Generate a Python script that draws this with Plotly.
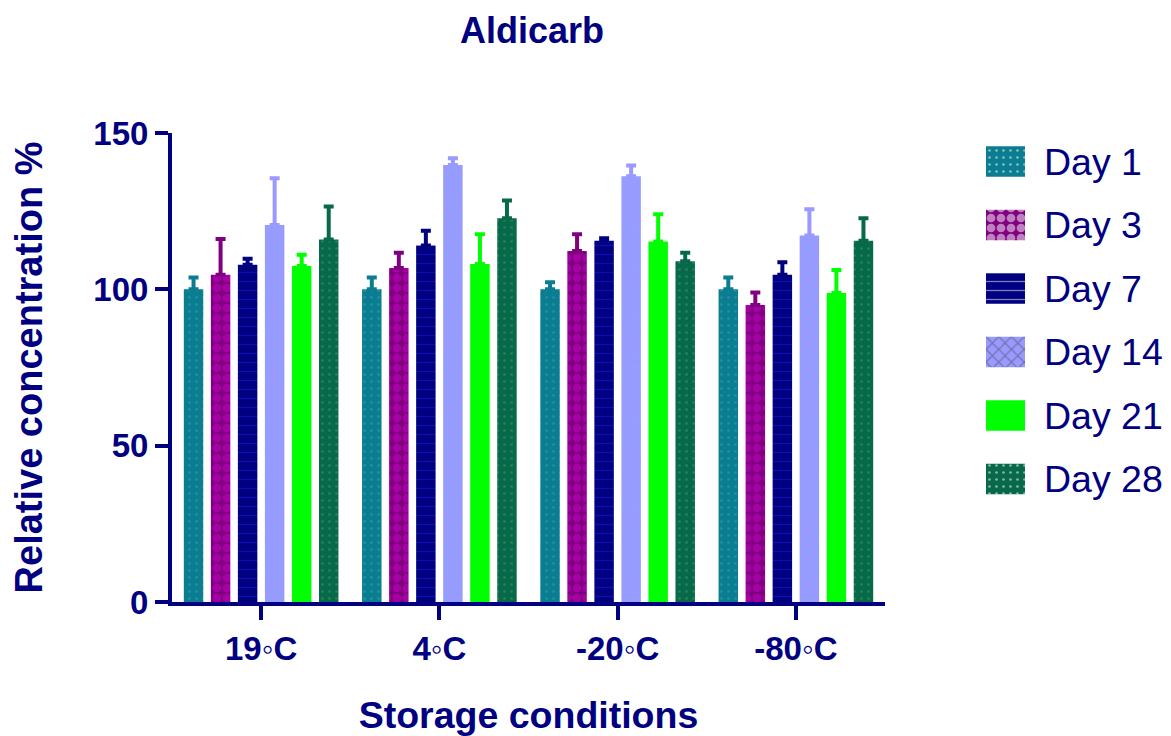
import plotly.graph_objects as go

TITLE = "Aldicarb"
CATEGORIES = ["19◦C", "4◦C", "-20◦C", "-80◦C"]
SERIES = ["Day 1", "Day 3", "Day 7", "Day 14", "Day 21", "Day 28"]

DAY1 = [100.0, 100.0, 100.0, 100.0]
DAY3 = [104.7, 106.8, 112.3, 95.0]
DAY7 = [107.9, 114.0, 115.5, 104.7]
DAY14 = [120.6, 139.8, 136.2, 117.2]
DAY21 = [107.5, 108.1, 115.3, 98.8]
DAY28 = [115.9, 122.7, 109.0, 115.5]

ERR1 = [3.8, 3.8, 2.3, 3.8]
ERR3 = [11.4, 4.9, 5.3, 4.0]
ERR7 = [1.9, 4.7, 0.8, 4.0]
ERR14 = [14.9, 2.1, 3.4, 8.4]
ERR21 = [3.6, 9.5, 8.7, 7.4]
ERR28 = [10.6, 5.7, 2.7, 7.2]

VALUES = [DAY1, DAY3, DAY7, DAY14, DAY21, DAY28]
ERRORS = [ERR1, ERR3, ERR7, ERR14, ERR21, ERR28]

COLORS = ["#0A7D90", "#800080", "#000080", "#9999FF", "#00FF00", "#07694A"]
FG = ["#35A8B8", "#C800C8", "#1A1AE0", "#80AEF2", "#00FF00", "#3C9C70"]
SHAPES = [".", ".", "-", "x", "", "."]
PSIZE = [7, 10, 9, 9, 8, 7]
PSOLID = [0.12, 0.6, 0.14, 0.25, 0.2, 0.12]

NAVY = "#000080"
FONT = "Liberation Sans, Arial, sans-serif"

fig = go.Figure()

for i, name in enumerate(SERIES):
    fig.add_trace(go.Bar(
        name=name,
        x=CATEGORIES,
        y=VALUES[i],
        marker=dict(
            color=COLORS[i],
            line=dict(width=0),
            pattern=dict(shape=SHAPES[i], fgcolor=FG[i], bgcolor=COLORS[i],
                         size=PSIZE[i], solidity=PSOLID[i]),
        ),
        error_y=dict(type="data", symmetric=False, array=ERRORS[i],
                     arrayminus=[0] * len(ERRORS[i]),
                     color=COLORS[i], thickness=4, width=5),
        showlegend=False,
        xaxis="x", yaxis="y",
    ))

# legend drawn as a small horizontal-bar panel
fig.add_trace(go.Bar(
    y=SERIES,
    x=[1] * len(SERIES),
    orientation="h",
    width=0.48,
    marker=dict(
        color=COLORS,
        line=dict(width=0),
        pattern=dict(shape=SHAPES, fgcolor=FG, bgcolor=COLORS,
                     size=PSIZE, solidity=PSOLID),
    ),
    showlegend=False,
    hoverinfo="skip",
    xaxis="x2", yaxis="y2",
))

L, R, T, B = 172, 5, 133, 129
W, H = 1171, 736
pw = W - L - R

fig.update_layout(
    width=W, height=H,
    autosize=False,
    margin=dict(l=L, r=R, t=T, b=B),
    paper_bgcolor="white",
    plot_bgcolor="white",
    barmode="group",
    bargap=0.09,
    bargroupgap=0.28,
    font=dict(family=FONT, color=NAVY),
    title=dict(text=TITLE, x=532 / W, xref="container", xanchor="center",
               y=1 - 30 / H, yref="container", yanchor="middle",
               font=dict(size=36, weight="bold", color=NAVY, family=FONT)),
    xaxis=dict(
        domain=[0, 713 / pw],
        range=[-0.5, 3.5],
        showline=True, linecolor=NAVY, linewidth=4,
        ticks="outside", ticklen=14, tickwidth=4, tickcolor=NAVY,
        tickfont=dict(size=33, weight="bold", color=NAVY, family=FONT),
        showgrid=False, zeroline=False,
        title=dict(text="Storage conditions", standoff=38,
                   font=dict(size=37.5, weight="bold", color=NAVY, family=FONT)),
    ),
    yaxis=dict(
        domain=[0, 1],
        range=[0, 150],
        tickvals=[0, 50, 100, 150],
        showline=True, linecolor=NAVY, linewidth=4,
        ticks="outside", ticklen=13, tickwidth=4, tickcolor=NAVY,
        tickfont=dict(size=33, weight="bold", color=NAVY, family=FONT),
        showgrid=False, zeroline=False,
        title=dict(text="Relative concentration %", standoff=40,
                   font=dict(size=38, weight="bold", color=NAVY, family=FONT)),
    ),
    xaxis2=dict(
        domain=[(986 - L) / pw, (1025 - L) / pw],
        range=[0, 1],
        anchor="y2",
        visible=False,
        fixedrange=True,
    ),
    yaxis2=dict(
        domain=[(607 - 514.7) / (H - T - B), 1],
        range=[5.5, -0.45],
        anchor="x2",
        side="right",
        showline=False, showgrid=False, zeroline=False,
        ticks="",
        ticklabelstandoff=18,
        tickfont=dict(size=37.5, color=NAVY, family=FONT),
        fixedrange=True,
    ),
)

fig.write_html("out.html")
